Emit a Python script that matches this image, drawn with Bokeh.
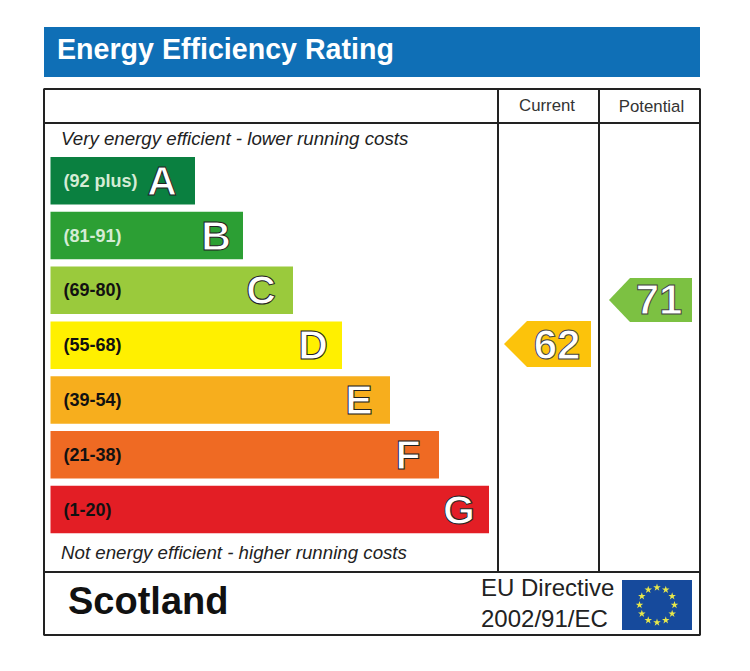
from math import cos, sin, pi
from bokeh.plotting import figure
from bokeh.models import Range1d, ColumnDataSource
from bokeh.core.properties import value
from bokeh.embed import file_html
from bokeh.resources import INLINE

# ---- chart values ----
bands = ["A", "B", "C", "D", "E", "F", "G"]
ranges = ["(92 plus)", "(81-91)", "(69-80)", "(55-68)", "(39-54)", "(21-38)", "(1-20)"]
bar_lengths = [144.5, 192.5, 242.5, 291.5, 339.5, 388.5, 438.5]
colors = ["#0a8040", "#2c9f34", "#9aca3c", "#fff000", "#f7ae1d", "#ef6a23", "#e31e25"]
range_colors = ["#d5ecd5", "#d5ecd5", "#111111", "#111111", "#111111", "#111111", "#111111"]
band_insets = [33, 27, 32, 29, 31, 31, 30]
current_score = 62
potential_score = 71
title_text = "Energy Efficiency Rating"
col_heads = ["Current", "Potential"]
top_note = "Very energy efficient - lower running costs"
bottom_note = "Not energy efficient - higher running costs"
region = "Scotland"
directive = ["EU Directive", "2002/91/EC"]

# ---- layout (page pixels) ----
W, H = 734, 655
FONT = value("Liberation Sans")
L, R, T, B = 44, 700, 89, 635
C1, C2, HEAD_Y, FOOT_Y = 498, 599, 123, 572
BAR_X, BAR_TOP, BAR_H, PITCH = 50.5, 157, 47.5, 54.8
INK = "#222222"

p = figure(width=W, height=H, output_backend="svg", toolbar_location=None,
           x_range=Range1d(0.5, W + 0.5), y_range=Range1d(H + 0.5, 0.5),
           min_border=0, outline_line_color=None, background_fill_color="white",
           border_fill_color="white")
p.axis.visible = False
p.grid.visible = False

# header
p.quad(left=[L], right=[R], top=[27], bottom=[77], fill_color="#0f6fb6", line_color=None)
p.text(x=[57], y=[49], text=[title_text], text_font=FONT, text_font_style="bold",
       text_font_size="28.6px", text_color="white", text_baseline="middle")

# frame
p.quad(left=[L], right=[R], top=[T], bottom=[B], fill_color=None, line_color=INK, line_width=2)
p.segment(x0=[L, L, C1, C2], y0=[HEAD_Y, FOOT_Y, T, T], x1=[R, R, C1, C2],
          y1=[HEAD_Y, FOOT_Y, FOOT_Y, FOOT_Y], line_color=INK, line_width=2)
p.text(x=[(C1 + C2) / 2 - 1.5, (C2 + R) / 2 + 2], y=[105, 106], text=col_heads, text_font=FONT,
       text_font_size="16.8px", text_color="#333333", text_align="center", text_baseline="middle")

# notes
p.text(x=[61, 61], y=[138, 552], text=[top_note, bottom_note], text_font=FONT,
       text_font_style="italic", text_font_size="18.7px", text_color="#222222", text_baseline="middle")

# bars
tops = [BAR_TOP + i * PITCH for i in range(len(bands))]
src = ColumnDataSource(dict(
    left=[BAR_X] * len(bands),
    right=[BAR_X + v for v in bar_lengths],
    top=tops, bottom=[t + BAR_H for t in tops],
    mid=[t + BAR_H / 2 for t in tops],
    color=colors, rng=ranges, rng_color=range_colors, band=bands,
    rng_x=[BAR_X + 13] * len(bands),
    band_x=[BAR_X + v - d for v, d in zip(bar_lengths, band_insets)],
))
p.quad(left="left", right="right", top="top", bottom="bottom", fill_color="color",
       line_color=None, source=src)
p.text(x="rng_x", y="mid", text="rng", text_color="rng_color", text_font=FONT,
       text_font_style="bold", text_font_size="18px", text_baseline="middle", source=src)
p.text(x="band_x", y="mid", text="band", text_color="white", text_outline_color="#222222",
       text_font=FONT, text_font_style="bold", text_font_size="41px", text_align="center",
       text_baseline="middle", source=src)

# score pointers
def score_y(v):
    return 344 - (v - 62) * 4.89

for v, tip, start, end, half, col in [(current_score, 504, 527, 591, 23, "#fcc30b"),
                                      (potential_score, 609, 630, 692, 22, "#7cc142")]:
    y = score_y(v)
    p.patch(x=[tip, start, end, end, start], y=[y, y - half, y - half, y + half, y + half],
            fill_color=col, line_color=None)
    p.text(x=[(start + end) / 2 - 2], y=[y], text=[str(v)], text_color="white",
           text_outline_color="#444444", text_font=FONT, text_font_style="bold",
           text_font_size="42px", text_align="center", text_baseline="middle")

# footer
p.text(x=[68], y=[601], text=[region], text_font=FONT, text_font_style="bold",
       text_font_size="38px", text_color="#111111", text_baseline="middle")
p.text(x=[481, 481], y=[587, 618], text=directive, text_font=FONT, text_font_size="24px",
       text_color="#222222", text_baseline="middle")

# EU flag
p.quad(left=[622], right=[692], top=[580], bottom=[630], fill_color="#164a9c", line_color=None)
star_x = [657 + 17.5 * sin(i * pi / 6) for i in range(12)]
star_y = [605 - 17.5 * cos(i * pi / 6) for i in range(12)]
p.scatter(x=star_x, y=star_y, marker="star", size=8, fill_color="#e8e84a", line_color=None)

open("out.html", "w").write(file_html(p, INLINE))
